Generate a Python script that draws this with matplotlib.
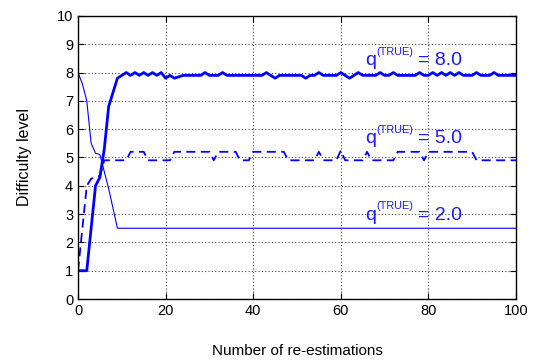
import matplotlib
matplotlib.use("Agg")
import matplotlib.pyplot as plt
import numpy as np

plt.rcParams['font.family'] = ['Liberation Sans', 'DejaVu Sans']

x = list(range(0, 101))

# q_true = 8.0 (bold solid)
q8 = [1.0, 1.0, 1.0, 2.5, 4.0, 4.3, 5.3, 6.8, 7.3, 7.8, 7.9,
      8.0, 7.9, 8.0, 7.9, 8.0, 7.9, 8.0, 7.9, 8.0, 7.8,
      7.9, 7.8, 7.85, 7.9, 7.9, 7.9, 7.9, 7.9, 8.0, 7.9,
      7.9, 7.9, 8.0, 7.9, 7.9, 7.9, 7.9, 7.9, 7.9, 7.9,
      7.9, 7.9, 8.0, 7.9, 7.8, 7.9, 7.9, 7.9, 7.9, 7.9,
      7.9, 7.8, 7.9, 7.9, 8.0, 7.9, 7.9, 7.9, 7.9, 8.0,
      7.9, 7.8, 7.9, 8.0, 7.9, 7.9, 7.9, 7.9, 8.0, 7.9,
      7.9, 8.0, 7.9, 7.9, 7.9, 7.9, 7.9, 8.0, 7.9, 7.9,
      8.0, 7.9, 8.0, 7.9, 8.0, 7.9, 8.0, 7.9, 7.9, 7.9,
      8.0, 7.9, 7.9, 7.9, 8.0, 7.9, 7.9, 7.9, 7.9, 7.9]

# q_true = 5.0 (dashed)
q5 = [1.0, 2.5, 4.0, 4.25, 4.3, 4.35, 4.9, 4.9, 4.9, 4.9, 4.9,
      4.9, 5.2, 5.2, 5.2, 5.2, 4.9, 4.9, 4.9, 4.9, 4.9,
      4.9, 5.2, 5.2, 5.2, 5.2, 5.2, 5.2, 5.2, 5.2, 5.2,
      4.9, 5.2, 5.2, 5.2, 5.2, 5.2, 4.9, 4.9, 4.9, 5.2,
      5.2, 5.2, 5.2, 5.2, 5.2, 5.2, 5.2, 4.9, 4.9, 4.9,
      4.9, 4.9, 4.9, 4.9, 5.2, 4.9, 4.9, 4.9, 4.9, 5.25,
      4.9, 4.9, 4.9, 4.9, 4.9, 5.2, 4.9, 4.9, 4.9, 4.9,
      4.9, 4.9, 5.2, 5.2, 5.2, 5.2, 5.2, 5.2, 4.9, 5.2,
      5.2, 5.2, 5.2, 5.2, 5.2, 5.2, 5.2, 5.2, 5.2, 5.2,
      4.9, 4.9, 4.9, 4.9, 4.9, 4.9, 4.9, 4.9, 4.9, 4.9]

# q_true = 2.0 (thin solid)
q2 = [8.0, 7.6, 7.0, 5.5, 5.15, 5.1, 4.5, 3.9, 3.2, 2.5] + [2.5] * 91

label_values = ['8.0', '5.0', '2.0']
label_pos = [(65.5, 8.25), (65.5, 5.5), (65.5, 2.8)]

xticks = [0, 20, 40, 60, 80, 100]
yticks = list(range(0, 11))

fig = plt.figure(figsize=(5.38, 3.62), dpi=100)
ax = fig.add_axes([0.145, 0.174, 0.814, 0.782])

ax.plot(x, q8, color='#0000ff', lw=2.0)
ax.plot(x, q5, color='#0000ff', lw=1.3, dashes=(5, 3))
ax.plot(x, q2, color='#0000ff', lw=0.8)

tc = '#1a1aff'
for val, (lx, ly) in zip(label_values, label_pos):
    ax.text(lx, ly, 'q', color=tc, fontsize=14, ha='left', va='baseline')
    ax.annotate('(TRUE)', xy=(lx, ly), xytext=(8.0, 7.5), textcoords='offset points',
                color=tc, fontsize=7.8, ha='left', va='baseline')
    ax.annotate('= ' + val, xy=(lx, ly), xytext=(38.0, 0), textcoords='offset points',
                color=tc, fontsize=14, ha='left', va='baseline')

ax.set_xlim(0, 100)
ax.set_ylim(0, 10)
ax.set_xticks(xticks)
ax.set_yticks(yticks)
ax.grid(True, color='#444444', linestyle=(0, (1, 2)), linewidth=0.8)
ax.tick_params(direction='in', top=True, right=True, labelsize=10.5, length=4)
for s in ax.spines.values():
    s.set_linewidth(1.0)
ax.set_xlabel('Number of re-estimations', fontsize=11, labelpad=19)
ax.set_ylabel('Difficulty level', fontsize=11.5, labelpad=18)

fig.savefig('out.png', dpi=100)
